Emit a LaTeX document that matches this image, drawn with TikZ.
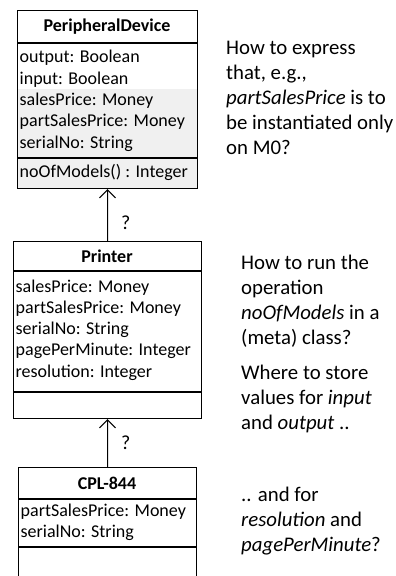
\documentclass[tikz,border=0pt]{standalone}
\usepackage{fontspec}
\setmainfont{Carlito}
\usetikzlibrary{arrows.meta}
\begin{document}
\begin{tikzpicture}[x=1bp,y=-1bp,
  classbox/.style={draw=black, line width=1.1bp, inner sep=0pt, anchor=north west},
  title/.style={font=\fontsize{18bp}{21bp}\selectfont\bfseries, inner sep=0pt, anchor=base},
  attr/.style={font=\fontsize{18bp}{21.3bp}\selectfont, anchor=base west, inner sep=0pt},
  note/.style={font=\fontsize{20.8bp}{25bp}\selectfont, anchor=base west, inner sep=0pt},
  sep/.style={line width=1.1bp},
  gen/.style={line width=1.1bp, -{Straight Barb[length=8bp, width=16bp, line width=1.1bp]}},
  qmark/.style={font=\fontsize{20bp}{24bp}\selectfont, inner sep=0pt}
]
\useasboundingbox (0,0) rectangle (395,576);

% PeripheralDevice
\fill[gray!12] (17,89) rectangle (197,188);
\node[classbox, minimum width=180bp, minimum height=178bp] (pd) at (17,10) {};
\draw[sep] (17,43) -- (197,43);
\draw[line width=1.6bp] (17,158) -- (197,158);
\node[title] (pdt) at (107,32) {PeripheralDevice};
\foreach \t [count=\i] in {output: Boolean, input: Boolean, salesPrice: Money,
    partSalesPrice: Money, serialNo: String}
  \node[attr] (pda\i) at (19.5,{63+21.3*(\i-1)}) {\t};
\node[attr] (pdo) at (19.5,177) {noOfModels() : Integer};

% Printer
\node[classbox, minimum width=188bp, minimum height=177bp] (pr) at (13,241) {};
\draw[sep] (13,271) -- (201,271);
\draw[sep] (13,392) -- (201,392);
\node[title] (prt) at (107,262) {Printer};
\foreach \t [count=\i] in {salesPrice: Money, partSalesPrice: Money, serialNo: String,
    pagePerMinute: Integer, resolution: Integer}
  \node[attr] (pra\i) at (15.5,{292+21.3*(\i-1)}) {\t};

% CPL-844 (runs past the lower edge)
\begin{scope}
\clip (0,0) rectangle (395,576);
\node[classbox, minimum width=178bp, minimum height=130bp] (cpl) at (18,467) {};
\draw[sep] (18,499) -- (196,499);
\draw[sep] (18,547) -- (196,547);
\node[title] (cplt) at (107,489) {CPL-844};
\foreach \t [count=\i] in {partSalesPrice: Money, serialNo: String}
  \node[attr] (cpla\i) at (20.5,{516+21.3*(\i-1)}) {\t};
\end{scope}

% generalisation arrows
\draw[gen] (pr.north) -- node[qmark, pos=0.36, right=13bp] {?} (pd.south);
\draw[gen] (cpl.north) -- node[qmark, pos=0.5, right=13bp] {?} (pr.south);

% questions
\foreach \t [count=\i] in {How to express, {that, e.g.,}, \textit{partSalesPrice} is to,
    be instantiated only, on M0?}
  \node[note] (qa\i) at (226,{55+25*(\i-1)}) {\t};
\foreach \t [count=\i] in {How to run the, operation, \textit{noOfModels} in a, (meta) class?}
  \node[note] (qb\i) at (241,{269+25*(\i-1)}) {\t};
\foreach \t [count=\i] in {Where to store, values for \textit{input}, and \textit{output} ..}
  \node[note] (qc\i) at (241,{379+25*(\i-1)}) {\t};
\foreach \t [count=\i] in {.. and for, \textit{resolution} and, \textit{pagePerMinute}?}
  \node[note] (qd\i) at (241,{501+25*(\i-1)}) {\t};
\end{tikzpicture}
\end{document}
